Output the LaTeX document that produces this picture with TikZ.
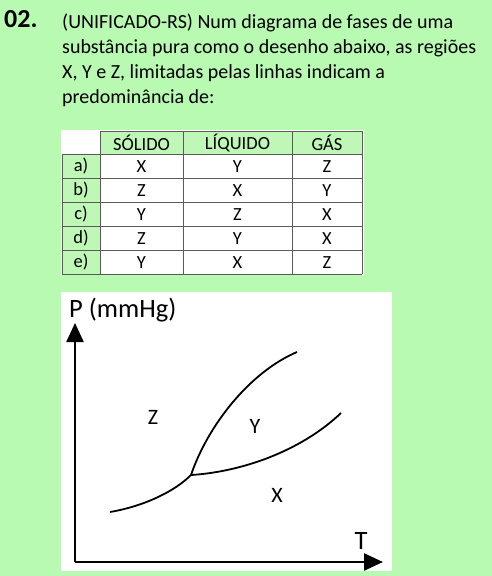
\documentclass[tikz,border=0pt]{standalone}
\usepackage{fontspec}
\setmainfont{Carlito}
\usetikzlibrary{arrows.meta}
\definecolor{pagebg}{RGB}{185,250,178}
\definecolor{cellbg}{RGB}{190,247,182}
\definecolor{gridc}{RGB}{90,90,90}
\begin{document}
\begin{tikzpicture}[x=1pt,y=-1pt,
  qtext/.style={anchor=base west,inner sep=0pt,font=\fontsize{20}{25}\selectfont},
  celltext/.style={inner sep=0pt,font=\fontsize{18.5}{21}\selectfont},
  gridline/.style={draw=gridc,line width=0.8pt},
  axis/.style={line width=2.4pt,-{Triangle[length=19pt,width=17pt]}},
  curve/.style={line width=1.8pt},
  region/.style={inner sep=0pt,font=\fontsize{22}{25}\selectfont},
  axlabel/.style={inner sep=0pt,font=\fontsize{26.5}{30}\selectfont}]
\fill[pagebg] (0,0) rectangle (492,576);
\useasboundingbox (0,0) rectangle (492,576);

% question text
\node[qtext,font=\fontsize{26}{30}\bfseries\selectfont] (num) at (4,27) {02.};
\node[qtext] (l1) at (62,28) {(UNIFICADO-RS) Num diagrama de fases de uma};
\node[qtext] (l2) at (62,53) {substância pura como o desenho abaixo, as regiões};
\node[qtext] (l3) at (62,78) {X, Y e Z, limitadas pelas linhas indicam a};
\node[qtext] (l4) at (62,103) {predominância de:};

% table
\fill[white] (61,130) rectangle (364,275);
\fill[cellbg] (100,131) rectangle (362,154);
\fill[cellbg] (62,154) rectangle (100,274);
\draw[gridline] (100,131) -- (362,131);
\foreach \y in {154,178,202,226,250,274} \draw[gridline] (62,\y) -- (362,\y);
\draw[gridline] (62,154) -- (62,274);
\foreach \x in {100,183,292,362} \draw[gridline] (\x,131) -- (\x,274);

\node[celltext] (h1) at (141.5,143) {SÓLIDO};
\node[celltext] (h2) at (237.5,143) {LÍQUIDO};
\node[celltext] (h3) at (327,143) {GÁS};
\foreach \lab/\a/\b/\c [count=\i] in {a)/X/Y/Z, b)/Z/X/Y, c)/Y/Z/X, d)/Z/Y/X, e)/Y/X/Z}{
  \pgfmathsetmacro{\yy}{154+24*(\i-1)+12.5}
  \node[celltext] (r\i) at (81,\yy) {\lab};
  \node[celltext] (s\i) at (141.5,\yy) {\a};
  \node[celltext] (q\i) at (237.5,\yy) {\b};
  \node[celltext] (g\i) at (327,\yy) {\c};
}

% phase diagram
\fill[white] (61,292) rectangle (392,571);
\coordinate (O) at (75,562);
\coordinate (ytop) at (75,323);
\coordinate (xend) at (383,562);
\draw[axis] (O) -- (ytop);
\draw[axis] (O) -- (xend);
\node[axlabel,anchor=base west] (P) at (69,317) {P (mmHg)};
\node[axlabel] (T) at (361,541) {T};

\coordinate (tp) at (191,475);
\coordinate (s0) at (110,512);
\coordinate (f1) at (297,352);
\coordinate (v1) at (341,413);
\draw[curve] (s0) .. controls (145,506) and (175,491) .. (tp);
\draw[curve] (tp) .. controls (208,425) and (250,372) .. (f1);
\draw[curve] (tp) .. controls (240,472) and (300,452) .. (v1);

\node[region] (Z) at (153,417) {Z};
\node[region] (Y) at (255,426) {Y};
\node[region] (X) at (277,495) {X};
\end{tikzpicture}
\end{document}
